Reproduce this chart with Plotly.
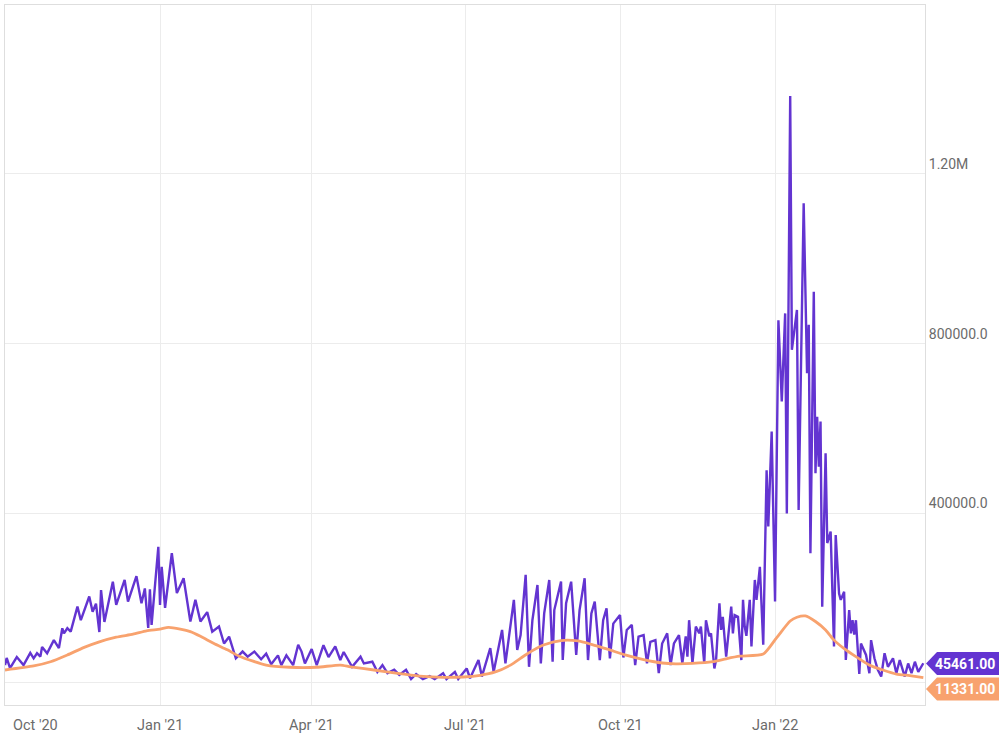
import pandas as pd
import plotly.graph_objects as go

# daily series, sampled at its turning points (days after 2020-10-01)
start = pd.Timestamp("2020-10-01")

purple_day = [
    0, 1, 3, 7, 11, 15, 17, 19, 21, 22, 25, 29, 32, 34, 35, 37, 39, 43, 45, 50,
    52, 54, 56, 57, 59, 64, 66, 71, 73, 78, 81, 83, 85, 86, 87, 91, 92, 93, 95, 99,
    102, 106, 110, 113, 116, 120, 123, 127, 130, 133, 137, 141, 144, 148, 152, 155, 158, 162, 164, 167,
    171, 174, 176, 178, 182, 185, 189, 192, 196, 199, 201, 206, 211, 213, 218, 221, 224, 227, 231, 234,
    238, 241, 244, 248, 252, 255, 260, 262, 267, 269, 274, 276, 281, 283, 288, 290, 295, 297, 302, 304,
    306, 309, 311, 313, 316, 318, 320, 323, 325, 326, 330, 331, 333, 336, 339, 341, 344, 346, 348, 350,
    353, 355, 357, 359, 361, 365, 367, 369, 372, 374, 376, 379, 381, 383, 386, 388, 390, 393, 395, 397,
    400, 402, 404, 405, 406, 408, 410, 412, 413, 415, 416, 418, 419, 421, 422, 424, 425, 426, 428, 431,
    432, 433, 435, 437, 438, 439, 440, 441, 442, 443, 445, 446, 448, 450, 452, 453, 455, 457, 459, 461,
    463, 464, 466, 467, 470, 471, 474, 476, 477, 478, 480, 481, 482, 483, 484, 485, 487, 488, 490, 492,
    493, 495, 496, 498, 499, 501, 502, 503, 504, 505, 507, 508, 511, 513, 514, 516, 518, 520, 522, 524,
    527, 529, 531, 534, 536, 538, 540, 542, 544, 545,
]
purple_val = [
    41000, 58000, 34000, 60000, 41000, 70000, 57000, 69000, 61000, 84000,
    69000, 100000, 81000, 128000, 116000, 128000, 120000, 179000, 147000, 203000,
    167000, 186000, 119000, 218000, 143000, 238000, 183000, 242000, 191000, 251000,
    187000, 222000, 129000, 220000, 136000, 320000, 183000, 273000, 176000, 305000,
    211000, 246000, 144000, 195000, 144000, 166000, 120000, 132000, 92000, 108000,
    57000, 73000, 61000, 73000, 55000, 68000, 43000, 64000, 41000, 64000,
    41000, 89000, 73000, 45000, 79000, 41000, 88000, 60000, 85000, 53000,
    72000, 37000, 61000, 45000, 49000, 25000, 41000, 22000, 30000, 18000,
    30000, 8000, 20000, 8000, 15000, 8000, 22000, 8000, 25000, 8000,
    33000, 10000, 53000, 14000, 81000, 25000, 124000, 45000, 195000, 77000,
    112000, 254000, 37000, 147000, 230000, 45000, 163000, 242000, 49000, 171000,
    238000, 53000, 187000, 238000, 65000, 171000, 246000, 53000, 163000, 191000,
    53000, 147000, 175000, 57000, 139000, 159000, 59000, 124000, 136000, 41000,
    108000, 112000, 45000, 96000, 100000, 22000, 92000, 116000, 41000, 92000,
    112000, 45000, 109000, 61000, 147000, 45000, 132000, 116000, 132000, 45000,
    147000, 109000, 116000, 33000, 53000, 187000, 124000, 155000, 61000, 179000,
    116000, 159000, 155000, 53000, 195000, 132000, 110000, 155000, 195000, 85000,
    242000, 195000, 273000, 89000, 501000, 368000, 592000, 191000, 855000, 663000,
    871000, 399000, 1384000, 785000, 879000, 407000, 1131000, 730000, 844000, 305000,
    922000, 494000, 627000, 509000, 616000, 179000, 541000, 329000, 356000, 85000,
    348000, 210000, 195000, 214000, 53000, 171000, 116000, 147000, 113000, 147000,
    20000, 92000, 65000, 22000, 100000, 57000, 30000, 14000, 69000, 37000,
    57000, 22000, 53000, 14000, 45000, 22000, 49000, 25000, 41000, 45461,
]

orange_day = [
    0, 17, 27, 37, 47, 56, 66, 76, 84, 92, 97, 104, 110, 116, 124, 132, 139, 155, 169, 185,
    199, 205, 219, 232, 246, 260, 272, 282, 291, 300, 310, 320, 330, 340, 348, 358, 368, 379, 390, 398,
    408, 420, 428, 436, 450, 458, 466, 470, 475, 481, 487, 492, 498, 505, 513, 521, 529, 537, 545,
]
orange_val = [
    29500, 39000, 49000, 65000, 83000, 96000, 107000, 114000, 122000, 126000,
    130000, 126000, 120000, 109000, 92000, 77000, 62000, 41000, 36000, 36000,
    41000, 37000, 29500, 22000, 15000, 12000, 13000, 17000, 25000, 41000,
    68000, 89000, 99000, 98000, 90000, 78000, 65000, 54000, 46000, 44000,
    45000, 49000, 56000, 62000, 67000, 106000, 145000, 154000, 157000, 144000,
    124000, 100000, 80000, 61000, 41000, 29500, 20000, 16000, 11331,
]

tick_dates = ["2020-10-01", "2021-01-01", "2021-04-01", "2021-07-01", "2021-10-01", "2022-01-01"]
tick_text = ["Oct '20", "Jan '21", "Apr '21", "Jul '21", "Oct '21", "Jan '22"]
y_ticks = [0, 400000, 800000, 1200000]
y_text = ["", "400000.0", "800000.0", "1.20M"]

PURPLE = "#6334d1"
ORANGE = "#f8a26e"
GRID = "#ececec"
TXT = "#6b6b6b"

p_dates = start + pd.to_timedelta(purple_day, unit="D")
o_dates = start + pd.to_timedelta(orange_day, unit="D")

fig = go.Figure()
fig.add_trace(go.Scatter(x=p_dates, y=purple_val, mode="lines",
                         line=dict(color=PURPLE, width=2.4), showlegend=False))
fig.add_trace(go.Scatter(x=o_dates, y=orange_val, mode="lines",
                         line=dict(color=ORANGE, width=2.8, shape="spline", smoothing=0.6),
                         showlegend=False))

fig.update_layout(
    width=999, height=738,
    margin=dict(l=5, r=74, t=5, b=33),
    paper_bgcolor="white", plot_bgcolor="white",
    font=dict(family="Roboto", size=13, color=TXT),
)
fig.update_xaxes(
    range=["2020-10-01", "2022-03-31"],
    tickvals=tick_dates, showticklabels=False, ticks="",
    showgrid=True, gridcolor=GRID, gridwidth=1,
    showline=True, linecolor="#dedede", linewidth=1, mirror=True,
    zeroline=False,
)
fig.update_yaxes(
    range=[-53100, 1598800], side="right",
    tickvals=y_ticks, ticktext=y_text, ticks="",
    ticklabelposition="outside top",
    tickfont=dict(family="Roboto", size=14, color=TXT),
    showgrid=True, gridcolor=GRID, gridwidth=1,
    showline=True, linecolor="#dedede", linewidth=1, mirror=True,
    zeroline=False,
)

# x tick labels drawn as annotations so the first one can sit inside the chart
for d, t in zip(tick_dates, tick_text):
    first = d == tick_dates[0]
    fig.add_annotation(x=d, y=-0.029, xref="x", yref="paper", text=t, showarrow=False,
                       xanchor="left" if first else "center", yanchor="middle",
                       xshift=6 if first else 0,
                       font=dict(family="Roboto", size=14.5, color=TXT))


# last-value flags at the right edge
def px_x(px):
    return (px - 5) / 920


def px_y(py):
    return (705 - py) / 700


def flag(center, color, text):
    top, bot = center - 11.5, center + 11.5
    path = (f"M {px_x(926)},{px_y(center)} L {px_x(937)},{px_y(top)} L {px_x(999)},{px_y(top)} "
            f"L {px_x(999)},{px_y(bot)} L {px_x(937)},{px_y(bot)} Z")
    fig.add_shape(type="path", path=path, xref="paper", yref="paper",
                  fillcolor=color, line=dict(width=0), layer="above")
    fig.add_annotation(x=px_x(965), y=px_y(center), xref="paper", yref="paper", text=text,
                       showarrow=False, xanchor="center", yanchor="middle",
                       font=dict(family="Roboto", size=14, color="white", weight="bold"))


flag(663.5, PURPLE, f"{purple_val[-1]:.2f}")
flag(689, ORANGE, f"{orange_val[-1]:.2f}")

fig.write_html("out.html", config={"displayModeBar": False},
               post_script="document.body.style.margin='0';")
